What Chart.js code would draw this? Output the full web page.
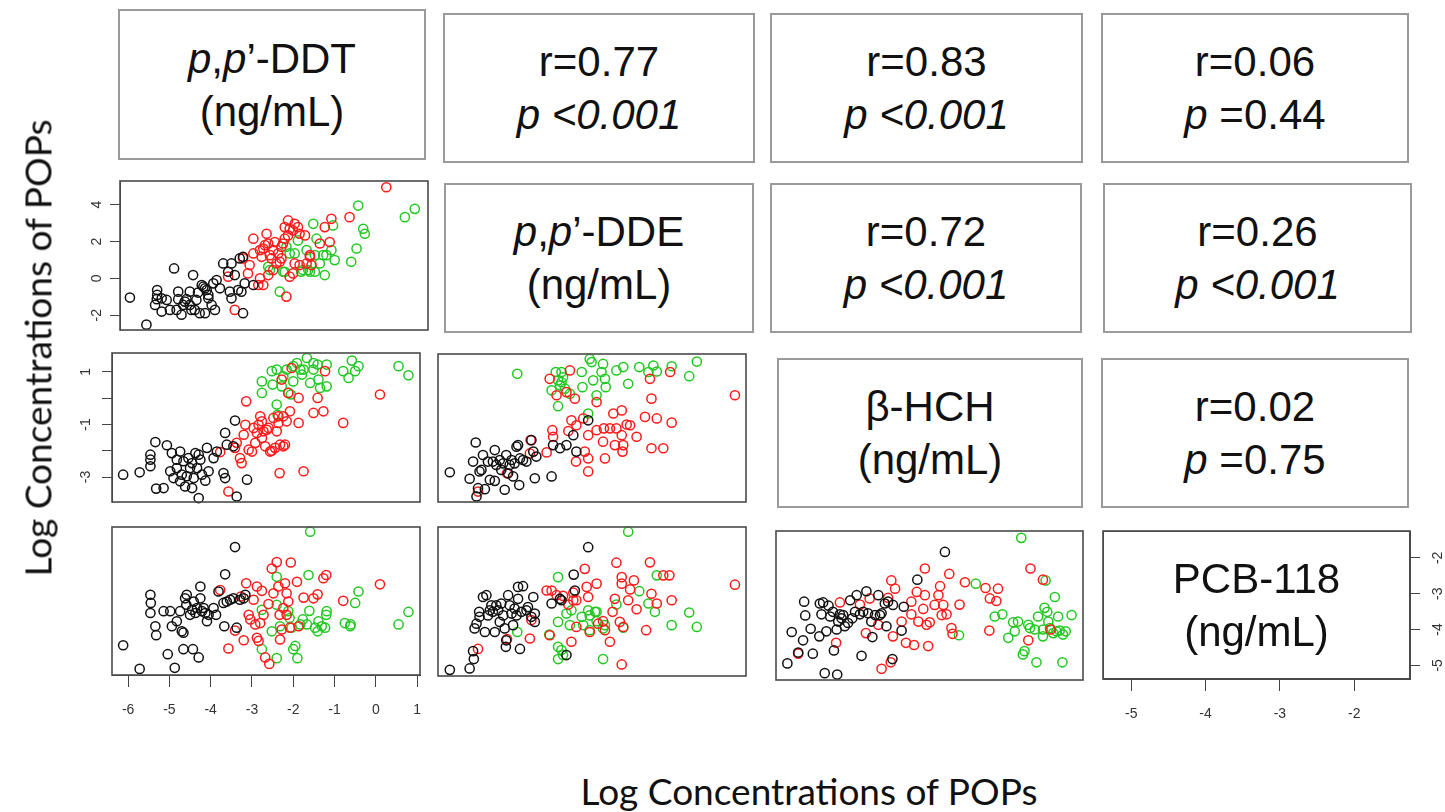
<!DOCTYPE html>
<html><head><meta charset="utf-8">
<script src="https://cdn.jsdelivr.net/npm/chart.js@4.4.1/dist/chart.umd.min.js"></script>
<style>
html,body{margin:0;padding:0;background:#fff;}
#root{position:relative;width:1445px;height:812px;overflow:hidden;background:#fff;font-family:"Liberation Sans",Arial,sans-serif;}
.tbox{position:absolute;box-sizing:border-box;border:2px solid #9a9a9a;display:flex;flex-direction:column;align-items:center;justify-content:center;font-size:42px;line-height:53px;color:#111;background:#fff;}
.tbox i{font-style:italic;}
canvas{position:absolute;}
.axlab{position:absolute;font-family:Lato,"Open Sans",sans-serif;font-size:37px;white-space:nowrap;color:#111;transform-origin:center center;}
</style>
</head><body>
<div id="root"></div>
<script>
// ---------- variables / tick labels ----------
const variables = ["p,p'-DDT", "p,p'-DDE", "β-HCH", "PCB-118"];
const ddtRange = [-6.39, 1.07];
const ddeRange = [-2.8, 5.28];
const hchRange = [-3.95, 1.72];
const pcbRange = [-5.38, -1.25];
const ddtTicks = [-6, -5, -4, -3, -2, -1, 0, 1];
const ddeTicks = [-2, 0, 2, 4];
const hchTicks = [1, 0, -1, -2, -3];
const hchTickLabels = ['1', '', '-1', '', '-3'];
const pcbTicks = [-5, -4, -3, -2];
const groupColors = ['#111111', '#ff1a1a', '#22c822'];

// ---------- correlation text ----------
const corrR = ['0.77', '0.83', '0.06', '0.72', '0.26', '0.02'];
const corrP = ['<0.001', '<0.001', '=0.44', '<0.001', '<0.001', '=0.75'];

// ---------- DDT (x) vs DDE (y) ----------
const ddtDdeBlack = [[-6.15,-1.04],[-5.75,-2.51],[-5.08,0.54],[-4.62,0.18],[-5.49,-0.63],[-5.49,-0.90],[-5.50,-1.13],[-5.54,-1.44],[-5.38,-1.08],[-5.38,-1.80],[-5.18,-1.71],[-4.98,-0.72],[-4.98,-1.13],[-5.02,-1.71],[-4.90,-1.97],[-4.70,-0.72],[-4.78,-1.13],[-4.70,-1.44],[-4.66,-1.71],[-4.58,-1.71],[-4.50,-0.77],[-4.46,-1.89],[-4.33,-1.89],[-4.37,-0.45],[-4.29,-0.63],[-4.25,-0.90],[-4.25,-1.08],[-4.17,-1.44],[-4.09,-1.71],[-4.13,-0.27],[-3.97,-0.54],[-3.89,0.81],[-3.69,0.81],[-3.77,0.36],[-3.61,0.18],[-3.49,1.08],[-3.41,1.17],[-3.73,-0.72],[-3.69,-1.08],[-3.53,-0.63],[-3.45,-0.72],[-3.37,-0.27],[-3.16,-0.36],[-3.41,-1.89],[-4.54,-1.17],[-4.82,-1.26],[-4.33,-0.54],[-4.41,-0.36],[-4.05,-0.09],[-4.86,-1.44],[-5.26,-1.17]];
const ddtDdeRed = [[-3.77,0.09],[-3.61,-1.71],[-3.41,1.08],[-3.29,0.27],[-3.25,0.72],[-3.16,1.35],[-3.16,2.15],[-3.04,-0.36],[-3.00,0.00],[-2.92,-0.36],[-3.00,1.53],[-2.92,1.62],[-2.88,1.80],[-2.84,2.42],[-2.80,1.89],[-2.76,1.26],[-2.72,1.08],[-2.68,1.53],[-2.64,1.97],[-2.80,0.18],[-2.60,0.81],[-2.52,0.90],[-2.48,1.08],[-2.48,1.71],[-2.44,1.89],[-2.40,2.15],[-2.36,-0.99],[-2.40,2.78],[-2.32,3.14],[-2.32,2.33],[-2.28,2.69],[-2.20,2.60],[-2.16,2.96],[-2.08,2.78],[-2.04,2.42],[-1.91,2.33],[-2.20,0.27],[-2.28,0.09],[-2.16,0.81],[-2.04,0.72],[-1.87,0.81],[-1.79,1.17],[-1.75,0.72],[-1.55,1.89],[-1.43,2.78],[-1.31,1.97],[-1.27,3.23],[-0.83,3.32],[0.06,4.94],[-2.96,1.17],[-2.56,1.35],[-2.68,0.45],[-1.79,1.26]];
const ddtDdeGreen = [[-2.52,-0.72],[-2.80,0.63],[-2.76,0.45],[-2.44,0.36],[-2.36,1.71],[-2.28,1.35],[-2.16,1.35],[-2.08,2.06],[-2.00,0.36],[-1.96,0.45],[-1.87,1.53],[-1.83,0.45],[-1.71,2.96],[-1.67,1.26],[-1.67,0.36],[-1.63,2.15],[-1.55,0.81],[-1.47,1.26],[-1.43,0.18],[-1.39,1.26],[-1.27,1.53],[-1.23,2.87],[-1.19,0.99],[-0.79,0.90],[-0.66,1.62],[-0.62,3.95],[-0.50,2.69],[-0.46,2.42],[0.51,3.32],[0.75,3.77],[-2.40,0.36],[-1.79,0.36]];

// ---------- DDT (x) vs HCH (y) ----------
const ddtHchBlack = [[-6.12,-2.91],[-5.72,-2.82],[-5.34,-1.67],[-5.46,-2.15],[-5.46,-2.34],[-5.46,-2.59],[-5.32,-3.44],[-5.14,-3.42],[-5.06,-1.79],[-4.94,-2.09],[-4.98,-2.78],[-4.90,-3.04],[-4.82,-2.66],[-4.74,-2.03],[-4.74,-3.16],[-4.66,-2.40],[-4.62,-3.36],[-4.58,-2.97],[-4.54,-2.28],[-4.50,-2.66],[-4.45,-2.47],[-4.41,-3.04],[-4.37,-2.09],[-4.33,-2.66],[-4.29,-3.80],[-4.25,-2.34],[-4.21,-2.91],[-4.13,-3.14],[-4.09,-1.89],[-4.05,-2.78],[-3.93,-2.28],[-3.85,-2.03],[-3.69,-2.85],[-3.65,-3.04],[-3.61,-1.77],[-3.65,-1.32],[-3.45,-1.83],[-3.41,-0.85],[-3.37,-3.74],[-3.12,-3.10],[-4.45,-3.42],[-4.70,-2.91],[-4.82,-2.34],[-4.29,-2.15]];
const ddtHchRed = [[-3.77,-2.05],[-3.57,-3.55],[-3.41,-1.89],[-3.37,-1.70],[-3.29,-2.28],[-3.25,-2.47],[-3.20,-1.39],[-3.16,-1.01],[-3.14,-0.12],[-3.08,-1.96],[-3.00,-2.03],[-2.96,-1.13],[-2.92,-1.70],[-2.88,-1.32],[-2.84,-1.01],[-2.80,-0.69],[-2.76,-1.51],[-2.72,-1.26],[-2.68,-1.83],[-2.64,-1.20],[-2.60,-1.13],[-2.56,-2.03],[-2.48,-0.75],[-2.44,-1.89],[-2.40,-1.26],[-2.36,-0.94],[-2.33,-2.85],[-2.32,-1.77],[-2.28,0.71],[-2.24,-0.69],[-2.20,-1.77],[-2.16,-0.88],[-2.12,0.20],[-2.08,-0.50],[-2.04,1.15],[-1.87,0.01],[-1.87,-0.94],[-1.75,-2.78],[-1.51,-0.56],[-1.41,0.01],[-1.27,-0.50],[-1.23,1.03],[-0.79,-0.94],[0.10,0.14],[-2.36,-0.69],[-2.76,-0.88],[-2.52,-2.00],[-2.24,-1.83]];
const ddtHchGreen = [[-2.76,0.64],[-2.76,0.20],[-2.52,1.03],[-2.50,0.52],[-2.40,1.09],[-2.40,-0.24],[-2.38,-0.63],[-2.28,0.45],[-2.24,0.83],[-2.16,1.09],[-2.12,0.20],[-2.00,0.64],[-2.00,1.22],[-1.91,1.34],[-1.79,0.90],[-1.75,1.09],[-1.67,1.53],[-1.59,0.58],[-1.51,1.34],[-1.41,1.28],[-1.39,0.71],[-1.35,0.39],[-1.19,0.45],[-1.19,1.28],[-0.79,1.03],[-0.66,0.77],[-0.58,1.43],[-0.50,1.03],[-0.42,1.22],[0.55,1.22],[0.79,0.87],[-2.06,0.14],[-1.83,1.09],[-1.51,1.09]];

// ---------- DDE (x) vs HCH (y) ----------
const ddeHchBlack = [[-2.49,-2.81],[-1.97,-3.06],[-1.88,-2.40],[-1.81,-1.67],[-1.79,-3.74],[-1.75,-3.42],[-1.71,-2.78],[-1.66,-2.72],[-1.62,-2.15],[-1.57,-3.46],[-1.49,-2.40],[-1.44,-3.10],[-1.36,-2.40],[-1.31,-1.96],[-1.31,-3.14],[-1.27,-2.53],[-1.18,-2.34],[-1.14,-2.72],[-1.09,-2.47],[-1.05,-3.48],[-1.01,-2.15],[-0.96,-2.85],[-0.92,-2.53],[-0.87,-2.34],[-0.83,-2.97],[-0.79,-2.47],[-0.74,-1.83],[-0.70,-1.77],[-0.67,-3.30],[-0.65,-2.28],[-0.57,-2.34],[-0.48,-2.40],[-0.35,-1.58],[-0.30,-2.02],[-0.26,-3.04],[-0.22,-2.21],[0.18,-2.97],[0.22,-1.77],[0.40,-1.89],[0.57,-1.77],[0.75,-1.39],[0.83,-2.02],[1.14,-0.82]];
const ddeHchRed = [[-1.75,-3.55],[-0.99,-2.85],[-0.39,-2.09],[-0.37,-1.58],[0.05,-2.05],[0.13,0.77],[0.20,-1.20],[0.22,-1.45],[0.31,0.14],[0.57,0.26],[0.62,-1.23],[0.66,1.09],[0.70,-0.82],[0.79,0.01],[0.82,-2.40],[0.83,-1.01],[1.01,-0.75],[1.05,-2.02],[1.14,-1.39],[1.14,-2.78],[1.14,-2.28],[1.36,-0.12],[1.36,-1.20],[1.53,-1.64],[1.55,-1.13],[1.58,-2.28],[1.71,-1.13],[1.80,-0.56],[1.84,-1.77],[1.88,-1.13],[2.02,-0.44],[2.02,-1.39],[2.06,-1.77],[2.15,-0.98],[2.24,-1.01],[2.41,-1.45],[2.63,-0.69],[2.76,0.77],[2.80,0.01],[2.94,-0.75],[3.11,-1.89],[3.29,1.03],[3.33,-0.91],[4.99,0.14],[2.80,-1.89],[2.04,-2.02]];
const ddeHchGreen = [[-0.72,0.96],[0.18,0.33],[0.29,1.03],[0.35,0.71],[0.40,0.52],[0.44,0.64],[0.35,-0.28],[0.48,0.83],[0.53,0.39],[0.66,0.20],[0.97,1.03],[0.99,0.45],[1.18,1.53],[1.23,1.41],[1.27,0.71],[1.36,0.14],[1.49,1.03],[1.53,1.34],[1.58,0.77],[1.60,0.45],[1.88,1.09],[2.06,1.22],[2.19,0.58],[2.48,1.22],[2.72,1.03],[2.85,1.28],[2.94,1.05],[3.33,1.25],[3.79,0.87],[3.99,1.43],[1.14,-0.56],[0.44,1.03]];

// ---------- DDT (x) vs PCB (y) ----------
const ddtPcbBlack = [[-6.12,-4.55],[-5.72,-5.21],[-5.46,-3.14],[-5.45,-3.37],[-5.46,-3.65],[-5.34,-4.02],[-5.32,-4.27],[-5.14,-3.60],[-5.04,-4.80],[-4.98,-3.60],[-4.94,-4.02],[-4.87,-5.18],[-4.82,-3.88],[-4.74,-3.60],[-4.70,-4.16],[-4.66,-4.66],[-4.62,-3.24],[-4.59,-3.42],[-4.58,-3.14],[-4.50,-3.70],[-4.45,-3.56],[-4.43,-4.66],[-4.41,-3.33],[-4.37,-3.65],[-4.33,-3.51],[-4.29,-4.89],[-4.25,-2.91],[-4.25,-3.24],[-4.21,-3.60],[-4.17,-3.51],[-4.13,-3.65],[-4.09,-3.88],[-4.05,-3.70],[-3.93,-3.51],[-3.87,-3.70],[-3.81,-3.05],[-3.69,-3.37],[-3.67,-4.02],[-3.65,-2.57],[-3.61,-3.33],[-3.53,-3.28],[-3.45,-3.24],[-3.41,-1.81],[-3.37,-4.06],[-3.29,-3.28],[-3.20,-3.24],[-3.16,-3.14],[-4.66,-4.20]];
const ddtPcbRed = [[-3.77,-3.01],[-3.57,-4.64],[-3.41,-4.14],[-3.27,-3.19],[-3.20,-4.41],[-3.14,-2.82],[-3.04,-3.83],[-2.96,-3.28],[-2.88,-2.91],[-2.88,-4.34],[-2.84,-4.43],[-2.80,-3.93],[-2.76,-3.03],[-2.72,-3.70],[-2.68,-4.89],[-2.60,-3.40],[-2.58,-5.07],[-2.52,-2.41],[-2.48,-3.10],[-2.40,-2.23],[-2.36,-2.91],[-2.33,-3.70],[-2.32,-4.39],[-2.28,-4.11],[-2.24,-3.51],[-2.20,-2.82],[-2.16,-3.10],[-2.12,-3.33],[-2.08,-4.06],[-2.06,-2.24],[-1.91,-2.78],[-1.87,-4.02],[-1.75,-3.22],[-1.51,-3.24],[-1.41,-3.13],[-1.27,-2.68],[-1.20,-2.59],[-0.79,-3.31],[0.10,-2.85],[-3.08,-3.70],[-2.16,-3.70],[-2.92,-3.97]];
const ddtPcbGreen = [[-2.76,-4.66],[-2.76,-3.56],[-2.52,-4.16],[-2.40,-4.91],[-2.40,-2.64],[-2.40,-3.42],[-2.32,-4.02],[-2.12,-3.60],[-2.09,-3.79],[-2.04,-4.06],[-2.00,-4.66],[-1.95,-4.57],[-1.90,-4.91],[-1.77,-3.83],[-1.67,-3.97],[-1.63,-2.59],[-1.61,-3.59],[-1.59,-1.38],[-1.47,-4.06],[-1.41,-4.16],[-1.39,-3.88],[-1.31,-4.02],[-1.23,-4.06],[-1.20,-3.70],[-1.19,-3.60],[-0.75,-3.93],[-0.62,-4.02],[-0.61,-3.97],[-0.50,-3.37],[-0.42,-3.05],[0.55,-3.97],[0.79,-3.62],[-1.83,-3.97]];

// ---------- DDE (x) vs PCB (y) ----------
const ddePcbBlack = [[-2.49,-5.21],[-1.97,-5.17],[-1.88,-4.69],[-1.86,-4.91],[-1.84,-4.06],[-1.79,-3.93],[-1.72,-3.60],[-1.71,-3.74],[-1.62,-3.19],[-1.57,-4.16],[-1.53,-3.14],[-1.49,-3.70],[-1.40,-3.42],[-1.36,-3.60],[-1.31,-4.16],[-1.27,-3.42],[-1.22,-3.56],[-1.18,-3.88],[-1.14,-3.37],[-1.09,-3.70],[-1.05,-4.06],[-1.02,-4.57],[-1.01,-4.39],[-0.96,-3.14],[-0.92,-3.42],[-0.87,-3.65],[-0.83,-3.97],[-0.79,-3.51],[-0.74,-3.70],[-0.70,-3.24],[-0.70,-2.91],[-0.65,-4.63],[-0.61,-3.60],[-0.57,-2.89],[-0.48,-3.56],[-0.44,-3.47],[-0.35,-3.74],[-0.30,-3.19],[-0.26,-3.88],[-0.26,-3.65],[0.18,-3.37],[0.40,-3.24],[0.57,-4.80],[0.76,-2.57],[0.79,-3.01],[1.14,-1.81],[0.44,-3.28],[-1.44,-3.56]];
const ddePcbRed = [[-1.75,-4.63],[-0.99,-4.36],[-0.39,-4.34],[-0.35,-3.83],[0.05,-3.01],[0.13,-4.25],[0.18,-3.01],[0.31,-3.14],[0.48,-3.16],[0.62,-3.40],[0.70,-4.43],[0.75,-3.28],[0.83,-3.28],[0.83,-4.02],[1.05,-2.41],[1.10,-2.91],[1.14,-3.19],[1.18,-4.16],[1.36,-2.82],[1.40,-3.93],[1.53,-3.86],[1.58,-4.11],[1.71,-4.43],[1.78,-3.60],[1.84,-3.24],[1.88,-2.24],[1.97,-3.88],[2.02,-2.64],[2.02,-2.82],[2.02,-5.06],[2.06,-4.02],[2.19,-3.28],[2.24,-2.98],[2.34,-2.73],[2.41,-3.53],[2.66,-4.11],[2.76,-2.23],[2.80,-3.10],[2.94,-3.37],[3.11,-2.59],[3.27,-2.59],[3.33,-3.28],[4.99,-2.85],[0.75,-3.07]];
const ddePcbGreen = [[-0.72,-4.16],[0.12,-4.23],[0.35,-2.64],[0.35,-3.88],[0.35,-4.57],[0.35,-4.91],[0.44,-4.66],[0.57,-3.65],[0.66,-3.97],[0.70,-3.56],[0.97,-3.74],[1.01,-3.97],[1.14,-3.56],[1.18,-4.11],[1.18,-3.70],[1.32,-3.60],[1.36,-3.86],[1.53,-4.06],[1.53,-4.91],[1.58,-3.97],[1.88,-3.40],[2.06,-4.04],[2.19,-1.38],[2.48,-3.03],[2.72,-3.37],[2.89,-3.60],[2.94,-2.59],[3.33,-3.97],[3.79,-3.62],[3.99,-4.02],[0.48,-4.80],[1.36,-3.60]];

// ---------- HCH (x) vs PCB (y) ----------
const hchPcbBlack = [[-3.74,-4.92],[-3.66,-4.05],[-3.54,-4.62],[-3.45,-4.28],[-3.43,-3.21],[-3.41,-3.59],[-3.31,-3.96],[-3.27,-4.65],[-3.15,-4.17],[-3.14,-3.26],[-3.11,-3.56],[-3.08,-3.23],[-3.05,-5.19],[-3.02,-4.03],[-2.98,-3.32],[-2.95,-3.62],[-2.90,-3.49],[-2.88,-4.56],[-2.83,-3.98],[-2.82,-5.23],[-2.80,-3.76],[-2.77,-3.56],[-2.74,-3.67],[-2.68,-3.89],[-2.62,-3.80],[-2.58,-3.17],[-2.54,-3.67],[-2.49,-3.49],[-2.46,-3.03],[-2.40,-3.56],[-2.37,-4.71],[-2.34,-3.49],[-2.28,-2.92],[-2.25,-3.53],[-2.19,-3.76],[-2.17,-4.19],[-2.12,-3.58],[-2.06,-3.03],[-2.03,-3.58],[-2.00,-3.53],[-1.94,-3.26],[-1.91,-3.89],[-1.88,-3.21],[-1.80,-4.80],[-1.79,-3.30],[-1.63,-4.01],[-1.59,-3.35],[-1.34,-2.60],[-0.83,-1.83],[-2.71,-3.58]];
const hchPcbRed = [[-3.54,-4.65],[-2.84,-4.35],[-2.77,-3.23],[-2.40,-3.29],[-2.29,-4.08],[-2.22,-3.12],[-2.06,-3.85],[-2.00,-5.07],[-1.88,-3.10],[-1.83,-4.89],[-1.82,-2.62],[-1.79,-4.17],[-1.75,-2.85],[-1.63,-3.76],[-1.55,-4.35],[-1.45,-3.21],[-1.45,-3.56],[-1.40,-4.41],[-1.35,-2.94],[-1.32,-3.76],[-1.23,-3.41],[-1.20,-3.03],[-1.20,-2.29],[-1.17,-3.85],[-1.14,-4.44],[-1.11,-3.78],[-1.02,-3.30],[-0.95,-3.03],[-0.92,-2.78],[-0.89,-3.58],[-0.86,-3.30],[-0.80,-3.56],[-0.75,-2.44],[-0.71,-3.94],[-0.69,-4.10],[-0.56,-3.29],[-0.46,-2.67],[-0.08,-2.83],[0.00,-3.12],[0.12,-3.19],[0.15,-2.85],[-0.01,-4.01],[0.71,-4.28],[0.75,-2.29],[0.98,-2.60],[1.12,-3.98]];
const hchPcbGreen = [[-0.57,-4.14],[-0.26,-2.71],[0.09,-3.62],[0.23,-3.56],[0.34,-4.21],[0.43,-3.78],[0.46,-4.03],[0.52,-3.76],[0.58,-1.44],[0.61,-4.67],[0.64,-4.58],[0.71,-3.85],[0.74,-3.94],[0.83,-3.98],[0.86,-4.89],[0.89,-3.62],[0.98,-3.98],[1.01,-3.38],[1.03,-2.62],[1.06,-3.49],[1.08,-3.76],[1.11,-3.94],[1.17,-4.08],[1.20,-3.08],[1.23,-4.03],[1.26,-3.62],[1.29,-4.01],[1.34,-4.89],[1.35,-4.12],[1.40,-4.03],[1.51,-3.58],[0.98,-4.17]];

// ---------- page ----------
const root = document.getElementById('root');

function textBox(box, lines) {
  const d = document.createElement('div');
  d.className = 'tbox';
  d.style.left = box[0] + 'px'; d.style.top = box[1] + 'px';
  d.style.width = (box[2] - box[0]) + 'px'; d.style.height = (box[3] - box[1]) + 'px';
  lines.forEach(html => { const s = document.createElement('div'); s.innerHTML = html; d.appendChild(s); });
  root.appendChild(d);
  return d;
}
function varLabel(name) {
  return name.replace(/p,p'/, "<i>p</i>,<i>p</i>’");
}
function corrLines(i) {
  const pv = corrP[i];
  const pText = pv[0] === '<' ? '<i>p &lt;' + pv.slice(1) + '</i>' : '<i>p</i> ' + pv;
  return ['r=' + corrR[i], pText];
}

// diagonal + upper triangle text boxes
textBox([118, 9, 426, 160], [varLabel(variables[0]), '(ng/mL)']);
textBox([443, 13, 755, 163], corrLines(0));
textBox([770, 13, 1083, 163], corrLines(1));
textBox([1101, 13, 1409, 163], corrLines(2));
textBox([444, 183, 754, 333], [varLabel(variables[1]), '(ng/mL)']);
textBox([770, 183, 1082, 333], corrLines(3));
textBox([1103, 183, 1412, 333], corrLines(4));
textBox([777, 358, 1083, 508], [variables[2], '(ng/mL)']);
textBox([1101, 358, 1409, 508], corrLines(5));

const framePlugin = {
  id: 'frame',
  afterDraw(chart, args, opts) {
    const a = chart.chartArea, ctx = chart.ctx;
    ctx.save();
    ctx.strokeStyle = opts.color; ctx.lineWidth = opts.width;
    ctx.strokeRect(a.left, a.top, a.right - a.left, a.bottom - a.top);
    ctx.restore();
  }
};

const M = 60, AX = 42;
function axisCfg(range, pos, ticks, labels, opts) {
  const show = !!ticks;
  const horiz = pos === 'bottom';
  const cfg = {
    type: 'linear', position: pos, min: range[0], max: range[1], display: show,
    grid: { display: true, drawOnChartArea: false, drawTicks: true, tickLength: opts.tl || 10, color: '#444', lineWidth: 1 },
    border: { display: true, color: '#444', width: 1 },
    ticks: {
      autoSkip: false, color: '#333', font: { family: 'Liberation Sans', size: 14 },
      padding: opts.pad || 6,
      minRotation: horiz ? 0 : 90, maxRotation: horiz ? 0 : 90,
      crossAlign: 'center'
    }
  };
  if (show) {
    cfg.afterBuildTicks = s => { s.ticks = ticks.map(v => ({ value: v })); };
    cfg.ticks.callback = v => { const i = ticks.indexOf(v); return labels ? labels[i] : String(v); };
    cfg.afterFit = s => { if (horiz) s.height = AX; else s.width = AX; };
  }
  return cfg;
}

function panel(box, xr, yr, sets, ax, frameColor) {
  const [l, t, r, b] = box;
  const cv = document.createElement('canvas');
  const W = r - l + 2 * M, H = b - t + 2 * M;
  cv.width = W; cv.height = H;
  cv.style.left = (l - M) + 'px'; cv.style.top = (t - M) + 'px';
  cv.style.width = W + 'px'; cv.style.height = H + 'px';
  root.appendChild(cv);
  const yPos = ax.yPos || 'left';
  new Chart(cv, {
    type: 'scatter',
    data: {
      datasets: sets.map((d, i) => ({
        data: d, showLine: false, pointStyle: 'circle', pointRadius: 4.6, pointBorderWidth: 1.5,
        borderColor: groupColors[i], backgroundColor: 'rgba(0,0,0,0)', clip: false
      }))
    },
    options: {
      responsive: false, animation: false, devicePixelRatio: 1, events: [],
      layout: { padding: {
        left: M - (ax.y && yPos === 'left' ? AX : 0),
        right: M - (ax.y && yPos === 'right' ? AX : 0),
        top: M,
        bottom: M - (ax.x ? AX : 0) } },
      plugins: { legend: { display: false }, tooltip: { enabled: false }, frame: { color: frameColor || '#4a4a4a', width: 1.6 } },
      scales: {
        x: axisCfg(xr, 'bottom', ax.x, ax.xl, ax.xo || {}),
        y: axisCfg(yr, yPos, ax.y, ax.yl, ax.yo || {})
      }
    },
    plugins: [framePlugin]
  });
}

// lower triangle scatter panels
panel([120, 181, 428, 330], ddtRange, ddeRange, [ddtDdeBlack, ddtDdeRed, ddtDdeGreen], { y: ddeTicks, yo: { tl: 10, pad: 7 } });
panel([112, 353, 420, 502], ddtRange, hchRange, [ddtHchBlack, ddtHchRed, ddtHchGreen], { y: hchTicks, yl: hchTickLabels, yo: { tl: 10, pad: 10 } });
panel([438, 354, 746, 502], ddeRange, hchRange, [ddeHchBlack, ddeHchRed, ddeHchGreen], {});
panel([112, 527, 420, 675], ddtRange, pcbRange, [ddtPcbBlack, ddtPcbRed, ddtPcbGreen], { x: ddtTicks, xo: { tl: 12, pad: 23 } });
panel([438, 527, 746, 676], ddeRange, pcbRange, [ddePcbBlack, ddePcbRed, ddePcbGreen], {});
panel([776, 531, 1083, 680], hchRange, pcbRange, [hchPcbBlack, hchPcbRed, hchPcbGreen], {});
// PCB-118 diagonal panel with its axes
panel([1103, 531, 1410, 679], pcbRange, pcbRange, [], { x: pcbTicks, xo: { tl: 12, pad: 23 }, y: pcbTicks, yPos: 'right', yo: { tl: 10, pad: 12 } });
const pcbBox = textBox([1103, 531, 1410, 679], [variables[3], '(ng/mL)']);
pcbBox.style.border = '1.6px solid #4a4a4a';
pcbBox.style.background = 'transparent';

// outer axis titles
const xl = document.createElement('div');
xl.className = 'axlab'; xl.textContent = 'Log Concentrations of POPs';
xl.style.left = '809px'; xl.style.top = '790px'; xl.style.transform = 'translate(-50%,-50%)';
root.appendChild(xl);
const yl = document.createElement('div');
yl.className = 'axlab'; yl.textContent = 'Log Concentrations of POPs';
yl.style.left = '37px'; yl.style.top = '348px'; yl.style.transform = 'translate(-50%,-50%) rotate(-90deg)';
root.appendChild(yl);
</script>
</body></html>
